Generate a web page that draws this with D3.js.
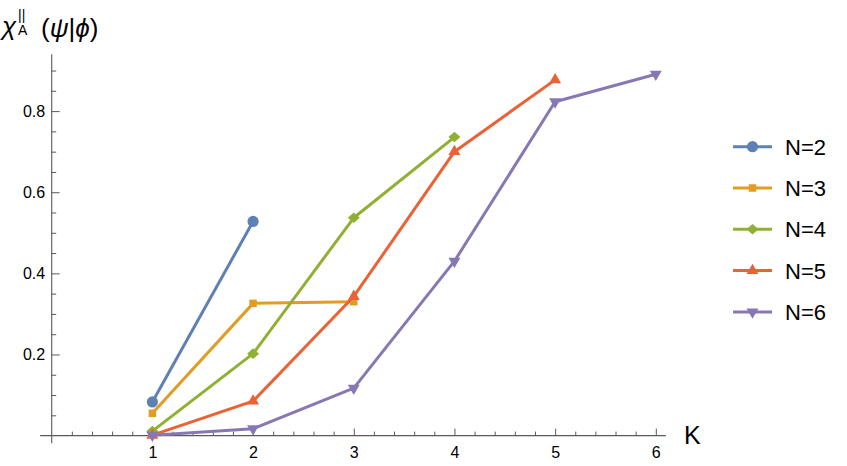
<!DOCTYPE html>
<html>
<head>
<meta charset="utf-8">
<script src="https://cdn.jsdelivr.net/npm/d3@7"></script>
<style>
  html, body { margin: 0; padding: 0; background: #fff; }
  svg { display: block; font-family: "Liberation Sans", Arial, sans-serif; }
</style>
</head>
<body>
<svg id="chart" width="847" height="466"></svg>
<script>
// ---- data ----
const seriesNames = ["N=2", "N=3", "N=4", "N=5", "N=6"];
const kValues = [1, 2, 3, 4, 5, 6];
const n2 = [0.083, 0.528];
const n3 = [0.055, 0.326, 0.330];
const n4 = [0.011, 0.202, 0.537, 0.736];
const n5 = [0.001, 0.085, 0.343, 0.700, 0.877];
const n6 = [0.001, 0.017, 0.117, 0.430, 0.823, 0.891];
const seriesValues = [n2, n3, n4, n5, n6];
const xMajorTicks = [1, 2, 3, 4, 5, 6];
const xMinorTicks = [0.2,0.4,0.6,0.8,1.2,1.4,1.6,1.8,2.2,2.4,2.6,2.8,3.2,3.4,3.6,3.8,4.2,4.4,4.6,4.8,5.2,5.4,5.6,5.8];
const yMajorTicks = [0.2, 0.4, 0.6, 0.8];
const yMinorTicks = [0.05,0.1,0.15,0.25,0.3,0.35,0.45,0.5,0.55,0.65,0.7,0.75,0.85,0.9];
const colors = ["#5E81B5", "#E19C24", "#8FB032", "#EB6235", "#8778B3"];
const shapes = ["circle", "square", "diamond", "triangleUp", "triangleDown"];

// ---- layout ----
const svg = d3.select("#chart");
const x = d3.scaleLinear().domain([0, 6]).range([51.7, 655.8]);
const y = d3.scaleLinear().domain([0, 0.8]).range([435.6, 111.1]);
const axisColor = "#5a5a5a";

// axis lines
svg.append("line")
  .attr("x1", x(-0.115)).attr("x2", x(6.1))
  .attr("y1", y(0)).attr("y2", y(0))
  .attr("stroke", axisColor).attr("stroke-width", 1.1);
svg.append("line")
  .attr("x1", x(0)).attr("x2", x(0))
  .attr("y1", y(-0.019)).attr("y2", y(0.94))
  .attr("stroke", axisColor).attr("stroke-width", 1.1);

// x axis
const gxMinor = svg.append("g").attr("transform", `translate(0,${y(0)})`)
  .call(d3.axisBottom(x).tickValues(xMinorTicks).tickSize(-4).tickFormat(""));
const gx = svg.append("g").attr("transform", `translate(0,${y(0)})`)
  .call(d3.axisBottom(x).tickValues(xMajorTicks).tickSize(-7).tickFormat(d3.format("d")));
[gxMinor, gx].forEach(g => {
  g.select(".domain").remove();
  g.selectAll(".tick line").attr("stroke", axisColor).attr("stroke-width", 1);
});
gx.selectAll(".tick text")
  .attr("y", 11.5).attr("dy", "0.71em")
  .attr("fill", "#000").attr("font-size", 16)
  .attr("font-family", "Liberation Sans, Arial, sans-serif");

// y axis
const gyMinor = svg.append("g").attr("transform", `translate(${x(0)},0)`)
  .call(d3.axisLeft(y).tickValues(yMinorTicks).tickSize(-4.5).tickFormat(""));
const gy = svg.append("g").attr("transform", `translate(${x(0)},0)`)
  .call(d3.axisLeft(y).tickValues(yMajorTicks).tickSize(-8).tickFormat(d3.format(".1f")));
[gyMinor, gy].forEach(g => {
  g.select(".domain").remove();
  g.selectAll(".tick line").attr("stroke", axisColor).attr("stroke-width", 1);
});
gy.selectAll(".tick text")
  .attr("x", -6.5).attr("dy", "0.34em")
  .attr("text-anchor", "end")
  .attr("fill", "#000").attr("font-size", 16)
  .attr("font-family", "Liberation Sans, Arial, sans-serif");

// axis labels
svg.append("text").attr("x", 684).attr("y", 443.5)
  .attr("font-size", 25).attr("fill", "#000").text("K");

const title = svg.append("g");
title.append("text").attr("x", 2).attr("y", 35).attr("font-size", 26)
  .attr("font-style", "italic").attr("fill", "#000").text("χ");
title.append("text").attr("x", 18).attr("y", 20).attr("font-size", 14)
  .attr("fill", "#000").text("||");
title.append("text").attr("x", 18).attr("y", 35).attr("font-size", 14)
  .attr("fill", "#000").text("A");
const t2 = title.append("text").attr("x", 41).attr("y", 37).attr("font-size", 26).attr("fill", "#000");
t2.append("tspan").text("(");
t2.append("tspan").attr("font-style", "italic").text("ψ");
t2.append("tspan").text("|");
t2.append("tspan").attr("font-style", "italic").text("ϕ");
t2.append("tspan").text(")");

// marker shapes
function markerPath(shape) {
  switch (shape) {
    case "circle": return d3.symbol(d3.symbolCircle, 98)();
    case "square": return d3.symbol(d3.symbolSquare, 56)();
    case "diamond": return "M0,-5.3L6,0L0,5.3L-6,0Z";
    case "triangleUp": return d3.symbol(d3.symbolTriangle, 62)();
    case "triangleDown": return d3.symbol(d3.symbolTriangle, 62)();
  }
}
function markerTransform(shape, px, py) {
  return shape === "triangleDown" ? `translate(${px},${py}) rotate(180)` : `translate(${px},${py})`;
}

// series
const line = d3.line().x((d, i) => x(kValues[i])).y(d => y(d));
seriesValues.forEach((vals, si) => {
  const g = svg.append("g");
  g.append("path").datum(vals)
    .attr("d", line).attr("fill", "none")
    .attr("stroke", colors[si]).attr("stroke-width", 3)
    .attr("stroke-linejoin", "round");
  g.selectAll("path.m").data(vals).enter().append("path").attr("class", "m")
    .attr("d", markerPath(shapes[si]))
    .attr("transform", (d, i) => markerTransform(shapes[si], x(kValues[i]), y(d)))
    .attr("fill", colors[si]);
});

// legend
const legend = svg.append("g");
seriesNames.forEach((name, i) => {
  const ly = 146.7 + i * 41.3;
  legend.append("line").attr("x1", 733).attr("x2", 772).attr("y1", ly).attr("y2", ly)
    .attr("stroke", colors[i]).attr("stroke-width", 3);
  legend.append("path").attr("d", markerPath(shapes[i]))
    .attr("transform", markerTransform(shapes[i], 752.5, ly)).attr("fill", colors[i]);
  legend.append("text").attr("x", 785).attr("y", ly + 8)
    .attr("font-size", 22).attr("fill", "#000").text(name);
});
</script>
</body>
</html>
